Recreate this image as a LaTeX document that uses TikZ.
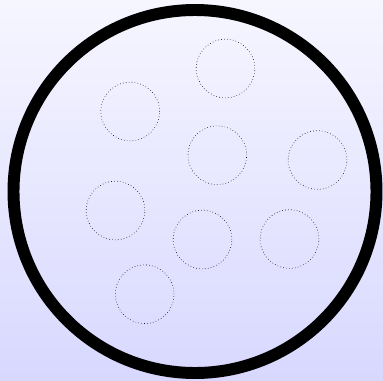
\documentclass[tikz,border=0pt]{standalone}
\definecolor{bgtop}{HTML}{F6F6FF}
\definecolor{bgbottom}{HTML}{D8D8FF}
\definecolor{rimcolor}{HTML}{000000}
\tikzset{
  rim/.style={draw=rimcolor, line width=10.2pt},
  vesicle/.style={circle, draw=black, dotted, line width=0.5pt, inner sep=0pt, minimum size=1.76cm},
}

\begin{document}
\begin{tikzpicture}[x=0.03cm,y=-0.03cm]
  \shade[top color=bgtop, bottom color=bgbottom] (0,0) rectangle (383,380);
  \useasboundingbox (0,0) rectangle (383,380);

  \node[circle, inner sep=0pt, minimum size=10.89cm] (cell) at (195,191.5) {};
  \draw[rim] (cell.center) circle[radius=181.5];

  \node[vesicle] (v1) at (225.5,68.5) {};
  \node[vesicle] (v2) at (130.2,111.5) {};
  \node[vesicle] (v3) at (217.3,155.2) {};
  \node[vesicle] (v4) at (317.5,160.0) {};
  \node[vesicle] (v5) at (115.5,210.5) {};
  \node[vesicle] (v6) at (202.5,239.5) {};
  \node[vesicle] (v7) at (289.5,239.0) {};
  \node[vesicle] (v8) at (144.7,294.2) {};
\end{tikzpicture}
\end{document}
